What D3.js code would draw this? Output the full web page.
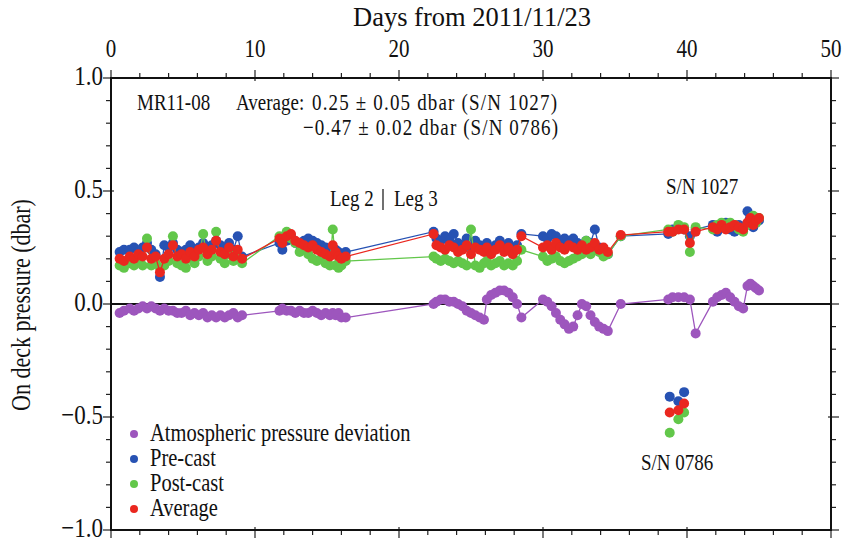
<!DOCTYPE html>
<html>
<head>
<meta charset="utf-8">
<script src="https://cdn.jsdelivr.net/npm/d3@7"></script>
<style>
  html, body { margin: 0; padding: 0; background: #fff; }
  svg text { font-family: "Liberation Serif", "Times New Roman", serif; fill: #111; }
</style>
</head>
<body>
<svg id="chart" width="854" height="543"></svg>
<script>
// Cast times (days from 2011/11/23) for sensor S/N 1027, with matching values per series
const days = [
  0.6,0.9,1.3,1.6,1.9,2.2,2.5,2.8,3.1,3.4,3.7,4.0,4.3,4.6,4.9,5.2,5.5,5.8,6.1,6.4,6.7,7.0,7.3,7.6,7.9,8.2,8.5,8.8,9.1,
  11.7,11.9,12.2,12.5,12.8,13.1,13.4,13.7,14.0,14.3,14.6,14.9,15.2,15.4,15.6,15.8,16.0,16.3,
  22.4,22.6,22.9,23.2,23.5,23.8,24.1,24.4,24.7,25.0,25.3,25.6,25.9,26.1,26.4,26.7,27.0,27.3,27.6,27.9,28.2,28.5,
  30.0,30.3,30.6,30.9,31.2,31.5,31.8,32.1,32.4,32.7,33.0,33.3,33.6,33.9,34.2,34.5,
  35.4,
  38.7,39.0,39.4,39.8,40.2,40.6,
  41.8,42.1,42.4,42.7,43.0,43.3,43.6,43.9,44.2,44.4,44.6,44.8,45.0
];
const atmospheric = [
  -0.04,-0.03,-0.02,-0.03,-0.02,-0.01,-0.02,-0.01,-0.02,-0.03,-0.02,-0.03,-0.03,-0.04,-0.04,-0.03,-0.05,-0.04,-0.05,-0.04,-0.06,-0.05,-0.06,-0.05,-0.06,-0.05,-0.04,-0.06,-0.05,
  -0.03,-0.02,-0.03,-0.03,-0.04,-0.03,-0.04,-0.04,-0.03,-0.04,-0.05,-0.04,-0.05,-0.04,-0.05,-0.04,-0.06,-0.06,
  0.00,0.01,0.02,0.02,0.01,0.01,0.00,-0.01,-0.03,-0.04,-0.05,-0.06,-0.07,0.02,0.04,0.05,0.06,0.06,0.05,0.03,0.00,-0.06,
  0.02,0.01,-0.01,-0.04,-0.07,-0.09,-0.11,-0.10,-0.05,0.00,-0.01,-0.05,-0.08,-0.10,-0.11,-0.12,
  0.00,
  0.02,0.03,0.03,0.03,0.02,-0.13,
  0.01,0.03,0.04,0.05,0.03,0.01,-0.01,-0.02,0.08,0.09,0.08,0.07,0.06
];
const preCast = [
  0.23,0.24,0.24,0.25,0.23,0.25,0.27,0.24,0.22,0.12,0.26,0.25,0.27,0.24,0.23,0.24,0.26,0.23,0.25,0.27,0.24,0.26,0.28,0.26,0.25,0.27,0.24,0.30,0.21,
  0.27,0.24,0.28,0.30,0.27,0.26,0.28,0.29,0.28,0.27,0.26,0.25,0.24,0.25,0.24,0.23,0.22,0.23,
  0.32,0.29,0.28,0.30,0.28,0.31,0.27,0.26,0.29,0.25,0.28,0.26,0.24,0.27,0.23,0.26,0.28,0.25,0.27,0.24,0.26,0.31,
  0.30,0.29,0.31,0.30,0.28,0.29,0.27,0.29,0.27,0.26,0.28,0.27,0.33,0.25,0.23,0.22,
  0.30,
  0.31,0.33,0.34,0.33,0.30,0.33,
  0.35,0.32,0.34,0.36,0.33,0.32,0.35,0.34,0.41,0.37,0.34,0.36,0.37
];
const postCast = [
  0.17,0.16,0.18,0.17,0.19,0.17,0.29,0.17,0.18,0.16,0.17,0.19,0.30,0.18,0.17,0.16,0.20,0.18,0.21,0.31,0.19,0.21,0.32,0.20,0.18,0.22,0.19,0.20,0.18,
  0.30,0.28,0.32,0.29,0.27,0.23,0.24,0.22,0.20,0.19,0.20,0.18,0.17,0.33,0.17,0.16,0.17,0.19,
  0.21,0.20,0.19,0.20,0.19,0.18,0.19,0.18,0.17,0.33,0.17,0.16,0.18,0.19,0.17,0.18,0.19,0.17,0.18,0.17,0.19,0.24,
  0.21,0.19,0.20,0.21,0.19,0.18,0.19,0.20,0.21,0.22,0.28,0.22,0.24,0.23,0.21,0.22,
  0.30,
  0.33,0.32,0.35,0.34,0.23,0.34,
  0.33,0.35,0.36,0.34,0.36,0.35,0.33,0.32,0.35,0.37,0.39,0.36,0.38
];
const average = [
  0.20,0.19,0.21,0.20,0.22,0.21,0.25,0.20,0.21,0.14,0.20,0.22,0.26,0.21,0.22,0.20,0.23,0.21,0.24,0.25,0.22,0.24,0.28,0.23,0.22,0.25,0.21,0.24,0.20,
  0.29,0.27,0.30,0.31,0.28,0.27,0.26,0.25,0.26,0.24,0.23,0.22,0.21,0.26,0.23,0.21,0.20,0.21,
  0.31,0.26,0.25,0.24,0.26,0.25,0.23,0.24,0.26,0.22,0.25,0.24,0.23,0.25,0.22,0.24,0.26,0.23,0.25,0.22,0.24,0.30,
  0.25,0.26,0.24,0.27,0.25,0.24,0.26,0.25,0.24,0.26,0.24,0.25,0.27,0.24,0.25,0.23,
  0.305,
  0.32,0.32,0.33,0.33,0.27,0.32,
  0.34,0.33,0.35,0.33,0.34,0.35,0.34,0.33,0.36,0.38,0.35,0.37,0.38
];

// Second sensor (S/N 0786), only a few casts
const days0786 = [38.8, 39.4, 39.8];
const preCast0786 = [-0.41, -0.43, -0.39];
const postCast0786 = [-0.57, -0.51, -0.48];
const average0786 = [-0.48, -0.47, -0.44];

const xTicks = [0, 10, 20, 30, 40, 50];
const yTicks = [1.0, 0.5, 0.0, -0.5, -1.0];
const legendLabels = ["Atmospheric pressure deviation", "Pre-cast", "Post-cast", "Average"];
const colors = { atm: "#9d56bd", pre: "#2752b3", post: "#62c74a", avg: "#ea271f" };

const svg = d3.select("#chart");
const W = 854, H = 543;
const m = { left: 111, right: 831, top: 78, bottom: 530 };
const SY = 1.2; // vertical stretch of the lettering

const x = d3.scaleLinear().domain([0, 50]).range([m.left, m.right]);
const y = d3.scaleLinear().domain([-1, 1]).range([m.bottom, m.top]);

svg.append("rect").attr("width", W).attr("height", H).attr("fill", "#fff");

// Text helper: places a label at (tx, ty) with the stretched lettering
function label(parent, tx, ty, str, size, anchor, len, sy) {
  const t = parent.append("text")
    .attr("transform", `translate(${tx},${ty}) scale(1,${sy || SY})`)
    .attr("font-size", size).attr("text-anchor", anchor || "start").text(str);
  if (len) t.attr("textLength", len).attr("lengthAdjust", "spacing");
  return t;
}

// Axis ticks (minor every 2 days / 0.1 dbar)
const g = svg.append("g").attr("stroke", "#222").attr("stroke-width", 1.2);
d3.range(0, 51, 2).forEach(d => {
  const major = d % 10 === 0;
  const len = major ? 8 : 5;
  g.append("line").attr("x1", x(d)).attr("x2", x(d)).attr("y1", m.top - len).attr("y2", m.top + (major ? 3 : 0));
  g.append("line").attr("x1", x(d)).attr("x2", x(d)).attr("y1", m.bottom + len).attr("y2", m.bottom - (major ? 3 : 0));
});
d3.range(-10, 11, 1).forEach(k => {
  const v = k / 10;
  const major = k % 5 === 0;
  const len = major ? 8 : 5;
  g.append("line").attr("x1", m.left - len).attr("x2", m.left + (major ? 3 : 0)).attr("y1", y(v)).attr("y2", y(v));
  g.append("line").attr("x1", m.right + len).attr("x2", m.right - (major ? 3 : 0)).attr("y1", y(v)).attr("y2", y(v));
});

// Tick labels
const tl = svg.append("g");
xTicks.forEach(d => label(tl, x(d), 57, String(d), 21, "middle"));
yTicks.forEach(d => label(tl, m.left - 8, y(d) + 7, (d < 0 ? "\u2212" : "") + Math.abs(d).toFixed(1), 23, "end"));

// Axis titles
label(svg, (m.left + m.right) / 2 + 1, 26, "Days from 2011/11/23", 26.5, "middle", null, 1.0);
svg.append("text").attr("transform", `translate(30,${(m.top + m.bottom) / 2 + 1}) rotate(-90) scale(1,${SY})`)
  .attr("text-anchor", "middle").attr("font-size", 22).text("On deck pressure (dbar)");

// Zero reference line
svg.append("line").attr("x1", m.left).attr("x2", m.right).attr("y1", y(0)).attr("y2", y(0))
  .attr("stroke", "#111").attr("stroke-width", 2);

// Series: thin connecting lines then dots
const series = [
  { vals: atmospheric, color: colors.atm },
  { vals: preCast, color: colors.pre },
  { vals: postCast, color: colors.post },
  { vals: average, color: colors.avg }
];
const line = d3.line().x(d => x(d[0])).y(d => y(d[1]));
const R = 5;
series.forEach(s => {
  const pts = days.map((d, i) => [d, s.vals[i]]);
  svg.append("path").datum(pts).attr("d", line).attr("fill", "none")
    .attr("stroke", s.color).attr("stroke-width", 1.3);
  svg.append("g").selectAll("circle").data(pts).join("circle")
    .attr("cx", d => x(d[0])).attr("cy", d => y(d[1])).attr("r", R).attr("fill", s.color);
});
[[preCast0786, colors.pre], [postCast0786, colors.post], [average0786, colors.avg]].forEach(([vals, c]) => {
  svg.append("g").selectAll("circle").data(days0786.map((d, i) => [d, vals[i]])).join("circle")
    .attr("cx", d => x(d[0])).attr("cy", d => y(d[1])).attr("r", R).attr("fill", c);
});

// Frame
svg.append("rect").attr("x", m.left).attr("y", m.top).attr("width", m.right - m.left).attr("height", m.bottom - m.top)
  .attr("fill", "none").attr("stroke", "#111").attr("stroke-width", 2);

// Annotations
const ann = svg.append("g");
label(ann, 137, 110, "MR11-08", 19);
label(ann, 236, 110, "Average:", 19);
label(ann, 312, 110, "0.25 \u00b1 0.05 dbar (S/N 1027)", 19, "start", 245);
label(ann, 303, 135, "\u22120.47 \u00b1 0.02 dbar (S/N 0786)", 19, "start", 255);
label(ann, 330, 206, "Leg 2", 19);
label(ann, 394, 206, "Leg 3", 19);
ann.append("line").attr("x1", 383).attr("x2", 383).attr("y1", 189).attr("y2", 210)
  .attr("stroke", "#111").attr("stroke-width", 1.2);
label(ann, 666, 194, "S/N 1027", 19);
label(ann, 641, 470, "S/N 0786", 19);

// Legend
const legColors = [colors.atm, colors.pre, colors.post, colors.avg];
const leg = svg.append("g");
legendLabels.forEach((t, i) => {
  const yy = 434 + i * 25;
  leg.append("circle").attr("cx", 134).attr("cy", yy).attr("r", 4).attr("fill", legColors[i]);
  label(leg, 150, yy + 7, t, 20.5);
});
</script>
</body>
</html>
